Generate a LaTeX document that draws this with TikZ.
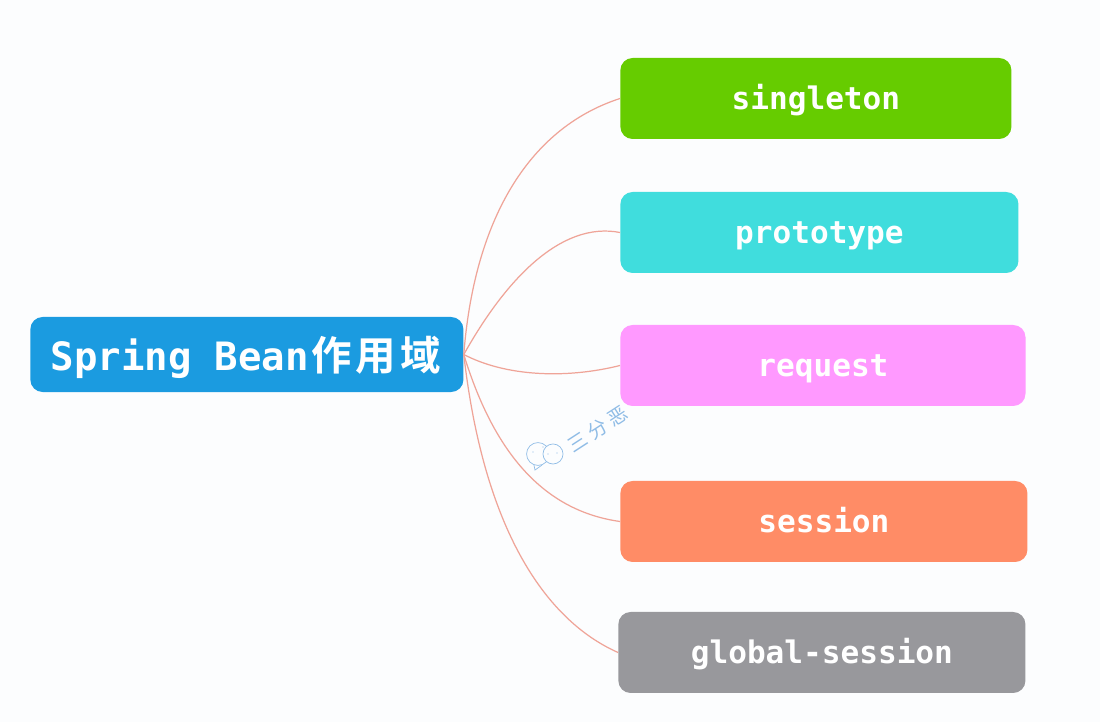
\documentclass[tikz,border=0pt]{standalone}
\usepackage{fontspec}
\setmonofont[BoldFont={DejaVu Sans Mono Bold}]{DejaVu Sans Mono}
\newfontfamily\cjk{Noto Sans CJK SC}[BoldFont={Noto Sans CJK SC Bold}]
\definecolor{paper}{HTML}{FCFDFE}
\definecolor{rootblue}{HTML}{1B9BE0}
\definecolor{singlegreen}{HTML}{66CC00}
\definecolor{prototeal}{HTML}{40DDDD}
\definecolor{requestpink}{HTML}{FF99FF}
\definecolor{sessionorange}{HTML}{FF8C66}
\definecolor{globalgrey}{HTML}{98989C}
\definecolor{linkred}{HTML}{EFA498}
\definecolor{markblue}{HTML}{8FBCE6}
\tikzset{
  scopebox/.style={rounded corners=7pt, text=white, font=\ttfamily\bfseries\fontsize{17.7}{20}\selectfont,
    minimum height=46.1pt, inner sep=0pt, anchor=west, text height=13pt, text depth=1pt},
  link/.style={draw=linkred, line width=0.7pt},
  face/.style={draw=markblue, circle, line width=0.4pt, inner sep=0pt},
  mark text/.style={text=markblue, font=\cjk\fontsize{11}{11}\selectfont, rotate=33, inner sep=0pt}
}
\begin{document}
\begin{tikzpicture}[x=0.02cm,y=-0.02cm]
  \fill[paper] (0,0) rectangle (1100,722);
  \node[scopebox, fill=rootblue, minimum width=246.5pt, minimum height=42.7pt, text height=19pt,
    font=\ttfamily\bfseries\fontsize{22.2}{26}\selectfont] (root) at (30,354.5)
    {\hspace{-1.2pt}Spring Bean{\cjk\fontsize{23}{26}\selectfont\hspace{1.2pt}作\hspace{2.5pt}用\hspace{2.5pt}域}};
  \node[scopebox, fill=singlegreen, minimum width=222.6pt] (singleton) at (620,98.5) {singleton};
  \node[scopebox, fill=prototeal, minimum width=226.6pt] (prototype) at (620,232.5) {prototype};
  \node[scopebox, fill=requestpink, minimum width=230.6pt] (request) at (620,365.5) {request};
  \node[scopebox, fill=sessionorange, minimum width=231.7pt] (session) at (620,521.5) {session};
  \node[scopebox, fill=globalgrey, minimum width=231.7pt] (global) at (618,652.5) {global-session};
  \begin{scope}[link]
    \draw (root.east) to[out=85.6,in=198,out looseness=1.11,in looseness=0.85] (singleton.west);
    \draw (root.east) to[out=60.8,in=169,out looseness=1.1,in looseness=0.78] (prototype.west);
    \draw (root.east) to[out=-27.6,in=194,out looseness=0.77,in looseness=0.92] (request.west);
    \draw (root.east) to[out=-73,in=172,out looseness=1.18,in looseness=0.84] (session.west);
    \draw (root.east) to[out=-83.5,in=156,out looseness=1.34,in looseness=0.61] (global.west);
  \end{scope}
  % watermark
  \node[face, minimum size=13pt] (faceleft) at (538,454) {};
  \node[face, minimum size=11.4pt, fill=paper] (faceright) at (553,454) {};
  \draw[markblue, line width=0.4pt] (faceleft.-110) -- ++(1,5) -- (faceleft.-70);
  \foreach \dotx/\doty in {533/452, 543/447, 548/454, 557/453}
    \fill[markblue] (\dotx,\doty) circle (0.4pt);
  \node[mark text] (marktext) at (597.5,429.5) {三\hspace{2.7pt}分\hspace{2.7pt}恶};
\end{tikzpicture}
\end{document}
